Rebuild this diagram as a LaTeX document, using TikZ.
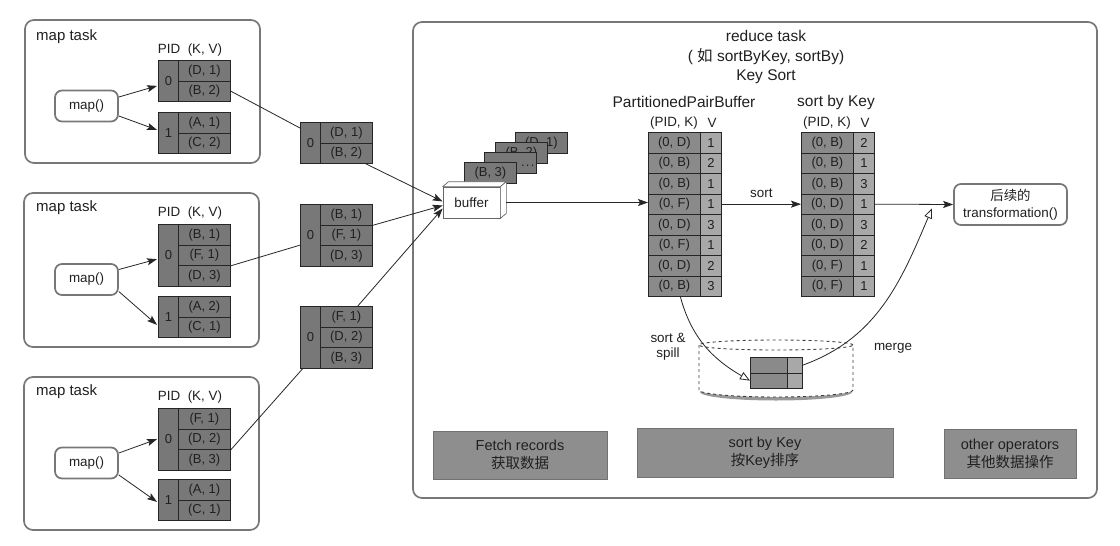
\documentclass[tikz,border=0pt]{standalone}
\usepackage{fontspec}
\setmainfont{Liberation Sans}
\newfontfamily\cjk{Noto Sans CJK SC}
\usetikzlibrary{arrows.meta,calc}

\definecolor{cellA}{HTML}{787878}
\definecolor{cellK}{HTML}{8A8A8A}
\definecolor{cellV}{HTML}{A8A8A8}
\definecolor{boxline}{HTML}{777777}
\definecolor{txt}{HTML}{202020}
\definecolor{opfill}{HTML}{8E8E8E}

\newcommand\myfT{\fontsize{15.5}{18}\selectfont}
\newcommand\myfM{\fontsize{15}{17}\selectfont}
\newcommand\myfN{\fontsize{13.4}{15.5}\selectfont}
\newcommand\myfC{\fontsize{13}{14}\selectfont}
\newcommand\myfO{\fontsize{14.5}{18}\selectfont}

\tikzset{
  frame/.style={draw=boxline, line width=1.7pt, rounded corners=9pt},
  kvcell/.style={draw=black!85, fill=cellA, line width=0.8pt, minimum width=52pt,
    minimum height=20.5pt, inner sep=0pt, anchor=north west, font=\myfC, text=txt},
  pidcell/.style={draw=black!85, fill=cellA, line width=0.8pt, minimum width=20pt,
    inner sep=0pt, anchor=north west, font=\myfC, text=txt},
  keycell/.style={draw=black!85, fill=cellK, line width=0.8pt, minimum width=52pt,
    minimum height=20.5pt, inner sep=0pt, anchor=north west, font=\myfC, text=txt},
  valcell/.style={draw=black!85, fill=cellV, line width=0.8pt, minimum width=21pt,
    minimum height=20.5pt, inner sep=0pt, anchor=north west, font=\myfC, text=txt},
  mapnode/.style={draw=boxline, line width=1.7pt, rounded corners=7pt, fill=white,
    minimum width=63pt, minimum height=31pt, inner sep=0pt, font=\myfN, text=txt},
  lbl/.style={inner sep=0pt, font=\myfN, text=txt},
  conn/.style={draw=black!85, line width=0.8pt},
  arr/.style={conn, -{Stealth[length=10pt, width=7pt, inset=2pt]}},
  oarr/.style={conn, -{Triangle[open, length=10pt, width=8pt]}},
  opbox/.style={fill=opfill, draw=opfill!80!black, line width=0.4pt, inner sep=0pt,
    align=center, font=\myfO, text=txt},
  card/.style={kvcell, minimum width=52pt, minimum height=21pt},
  buf3d/.style={draw=black!60, fill=white, line width=0.7pt, line join=round},
  disk/.style={draw=black!75, dashed, line width=0.9pt},
}

% #1 name, #2 x, #3 y, #4 pid, #5 number of rows, #6 rows
\newcommand\ptable[6]{%
  \foreach \rowtxt [count=\i] in {#6}{
    \node[kvcell] (#1-\i) at ({#2+20},{#3+(\i-1)*20.5}) {\rowtxt};
  }
  \node[pidcell, minimum height={#5*20.5pt}] (#1-p) at (#2,#3) {#4};
}

\begin{document}
\begin{tikzpicture}[x=1pt,y=-1pt]
\fill[white] (0,0) rectangle (1120,546);
\useasboundingbox (0,0) rectangle (1120,546);

% ---------- map task frames ----------
\draw[frame] (25,20) rectangle (260,163);
\draw[frame] (24,193) rectangle (259,347);
\draw[frame] (24,377) rectangle (259,530);

\node[lbl, anchor=west, font=\myfM] (mt1) at (36,37) {map task};
\node[lbl, anchor=west, font=\myfM] (mt2) at (36,208) {map task};
\node[lbl, anchor=west, font=\myfM] (mt3) at (36,392) {map task};

\node[lbl] (h1) at (190,50) {PID\ \ (K, V)};
\node[lbl] (h2) at (190,213) {PID\ \ (K, V)};
\node[lbl] (h3) at (190,397) {PID\ \ (K, V)};

\node[mapnode] (map1) at (86.5,106) {map()};
\node[mapnode] (map2) at (86.5,279.5) {map()};
\node[mapnode] (map3) at (86.5,463) {map()};

\ptable{t1a}{158}{60}{0}{2}{{(D, 1)},{(B, 2)}}
\ptable{t1b}{158}{112}{1}{2}{{(A, 1)},{(C, 2)}}
\ptable{t2a}{158}{224}{0}{3}{{(B, 1)},{(F, 1)},{(D, 3)}}
\ptable{t2b}{158}{296}{1}{2}{{(A, 2)},{(C, 1)}}
\ptable{t3a}{158}{408}{0}{3}{{(F, 1)},{(D, 2)},{(B, 3)}}
\ptable{t3b}{158}{479}{1}{2}{{(A, 1)},{(C, 1)}}

\draw[arr] ($(map1.east)+(0,-9)$) -- ($(t1a-p.west)+(-1,5)$);
\draw[arr] ($(map1.east)+(0,10)$) -- ($(t1b-p.west)+(-1,-3)$);
\draw[arr] ($(map2.east)+(0,-10)$) -- ($(t2a-p.west)+(-1,4)$);
\draw[arr] ($(map2.east)+(0,12)$) -- ($(t2b-p.west)+(-1,8)$);
\draw[arr] ($(map3.east)+(0,-10)$) -- ($(t3a-p.west)+(-1,0)$);
\draw[arr] ($(map3.east)+(0,12)$) -- ($(t3b-p.west)+(-1,2)$);

% ---------- shuffled blocks ----------
\ptable{m1}{300}{122}{0}{2}{{(D, 1)},{(B, 2)}}
\ptable{m2}{300}{204}{0}{3}{{(B, 1)},{(F, 1)},{(D, 3)}}
\ptable{m3}{300}{306}{0}{3}{{(F, 1)},{(D, 2)},{(B, 3)}}

\draw[conn] (t1a-2.east) -- ($(m1-p.north west)+(0,6)$);
\draw[conn] (t2a-2.south east) -- ($(m2-p.west)+(0,10)$);
\draw[conn] (t3a-2.south east) -- ($(m3-p.south west)+(3,0)$);

% ---------- reduce task frame ----------
\draw[frame] (413,22) rectangle (1097,498);
\node[lbl, font=\myfT] (rt1) at (766,36) {reduce task};
\node[lbl, font=\myfT] (rt2) at (766,57) {( {\cjk 如} sortByKey, sortBy)};
\node[lbl, font=\myfT] (rt3) at (766,77) {Key Sort};

% ---------- cards and buffer ----------
\node[card] (c1) at (515,132) {(D, 1)};
\node[card] (c2) at (495,142) {(B, 2)};
\node[card, text width=48pt, align=right] (c3) at (484,152) {\raisebox{-7pt}{.\kern1.2pt.\kern1.2pt.}};
\node[card] (c4) at (464,162) {(B, 3)};

\node[draw=black!60, fill=white, line width=0.7pt, minimum width=57pt, minimum height=31pt,
  inner sep=0pt, font=\myfN, text=txt] (buffer) at (471.5,202.5) {buffer};
\draw[buf3d] (buffer.north west) -- ++(6,-5) -- ($(buffer.north east)+(6,-5)$)
  -- (buffer.north east) -- cycle;
\draw[buf3d] (buffer.north east) -- ++(6,-5) -- ($(buffer.south east)+(6,-5)$)
  -- (buffer.south east) -- cycle;

\draw[arr] ($(m1-2.south east)+(-7,0)$) -- ($(buffer.west)+(0,-1)$);
\draw[arr] (m2-1.south east) -- ($(buffer.west)+(0,3)$);
\draw[arr] ($(m3-1.north east)+(-15,0)$) -- ($(buffer.west)+(0,6)$);

% ---------- PartitionedPairBuffer ----------
\node[lbl, font=\myfT] (ppbl) at (684,102) {PartitionedPairBuffer};
\node[lbl] (ppbh1) at (674,123) {(PID, K)};
\node[lbl] (ppbh2) at (712,123) {V};
\foreach \k/\v [count=\i] in {D/1,B/2,B/1,F/1,D/3,F/1,D/2,B/3}{
  \node[keycell] (pk-\i) at (648,{132+(\i-1)*20.5}) {(0, \k)};
  \node[valcell] (pv-\i) at (700,{132+(\i-1)*20.5}) {\v};
}

% ---------- sort by Key ----------
\node[lbl, font=\myfT] (sbl) at (836,102) {sort by Key};
\node[lbl] (sbh1) at (827,123) {(PID, K)};
\node[lbl] (sbh2) at (865,123) {V};
\foreach \k/\v [count=\i] in {B/2,B/1,B/3,D/1,D/3,D/2,F/1,F/1}{
  \node[keycell] (sk-\i) at (801,{132+(\i-1)*20.5}) {(0, \k)};
  \node[valcell] (sv-\i) at (853,{132+(\i-1)*20.5}) {\v};
}

\draw[arr] ($(buffer.east)+(6,0)$) -- (pk-4.west |- buffer.east);
\draw[arr] (pv-4.east) -- (sk-4.west);
\node[lbl] (sortl) at ($(pv-4.east)!0.5!(sk-4.west)+(0,-11)$) {sort};

\node[draw=boxline, line width=1.7pt, rounded corners=7pt, fill=white,
  minimum width=113pt, minimum height=41pt, inner sep=0pt, align=center, text=txt,
  font=\fontsize{13.4}{17}\selectfont] (next) at (1010.5,204.5)
  {{\cjk 后续的}\\transformation()};
\draw[arr] (sv-4.east) -- (next.west);
\coordinate (mg) at ($(sv-4.east)!0.73!(next.west)+(0,4)$);

% ---------- spill disk ----------
\fill[black!40] (700,392) arc[start angle=180,end angle=360,x radius=76pt,y radius=8.5pt]
  -- (852,389) arc[start angle=0,end angle=-180,x radius=76pt,y radius=7pt] -- cycle;
\draw[disk, fill=white] (699,345) -- (699,390)
  arc[start angle=180,end angle=360,x radius=77pt,y radius=7pt] -- (853,345);
\draw[disk] (776,345) ellipse[x radius=77pt, y radius=5pt];

\node[keycell, minimum width=37pt, minimum height=15.5pt] (dk-1) at (750,357) {};
\node[valcell, minimum width=15pt, minimum height=15.5pt] (dv-1) at (787,357) {};
\node[keycell, minimum width=37pt, minimum height=15.5pt] (dk-2) at (750,372.5) {};
\node[valcell, minimum width=15pt, minimum height=15.5pt] (dv-2) at (787,372.5) {};

\draw[oarr] ($(pk-8.south)+(6,0)$) to[out=-75, in=150] (dk-2.west);
\draw[oarr] (dv-1.east) to[out=20, in=-113] (mg);

\node[lbl, align=center, font=\fontsize{13.4}{15.5}\selectfont] (spl) at (668,347) {sort \&\\spill};
\node[lbl] (mgl) at (893,348) {merge};

% ---------- operator boxes ----------
\node[opbox, minimum width=174pt, minimum height=48pt] (op1) at (520,455)
  {Fetch records\\{\cjk 获取数据}};
\node[opbox, minimum width=256pt, minimum height=49pt] (op2) at (765,452.5)
  {sort by Key\\{\cjk 按}Key{\cjk 排序}};
\node[opbox, minimum width=132pt, minimum height=49pt] (op3) at (1010,453.5)
  {other operators\\{\cjk 其他数据操作}};

\end{tikzpicture}
\end{document}
